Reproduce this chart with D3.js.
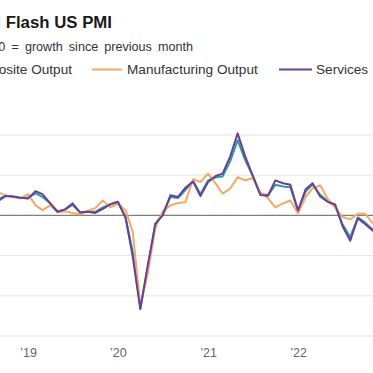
<!DOCTYPE html>
<html><head><meta charset="utf-8">
<script src="https://cdn.jsdelivr.net/npm/d3@7"></script>
<style>
html,body{margin:0;padding:0;background:#fff;overflow:hidden;}
svg{display:block;font-family:"Liberation Sans",Arial,sans-serif;}
</style></head>
<body><svg id="c" width="373" height="373"></svg>
<script>
const months = [
 "2018-08","2018-09","2018-10","2018-11","2018-12",
 "2019-01","2019-02","2019-03","2019-04","2019-05","2019-06","2019-07","2019-08","2019-09","2019-10","2019-11","2019-12",
 "2020-01","2020-02","2020-03","2020-04","2020-05","2020-06","2020-07","2020-08","2020-09","2020-10","2020-11","2020-12",
 "2021-01","2021-02","2021-03","2021-04","2021-05","2021-06","2021-07","2021-08","2021-09","2021-10","2021-11","2021-12",
 "2022-01","2022-02","2022-03","2022-04","2022-05","2022-06","2022-07","2022-08","2022-09","2022-10","2022-11","2022-12"];
const composite = [54.7,53.9,54.9,54.7,54.4,
 54.4,55.5,54.6,53.0,50.9,51.5,52.6,50.7,51.0,50.9,52.0,52.7,
 53.3,49.6,40.9,27.0,37.0,47.9,50.3,54.6,54.3,56.3,58.6,55.3,
 58.7,59.5,59.7,63.5,68.7,63.7,59.9,55.4,55.0,57.6,57.2,57.0,
 51.1,55.9,57.7,55.1,53.6,52.3,47.7,44.6,49.5,48.2,46.4,45.0];
const manufacturing = [55.5,55.8,55.0,54.6,54.2,
 55.3,52.5,51.3,52.5,50.8,51.0,50.6,50.2,51.2,51.8,53.7,52.0,
 52.9,51.3,46.0,27.5,35.5,47.0,51.0,52.5,53.1,53.3,59.0,58.3,
 60.4,57.9,55.4,56.7,59.5,58.7,59.3,55.8,54.3,52.0,53.0,53.7,
 50.5,54.6,56.7,57.5,54.2,51.8,49.6,49.0,50.4,50.4,48.0,46.5];
const services = [54.8,53.5,54.8,54.7,54.4,
 54.2,56.0,55.3,53.0,50.9,51.5,53.0,50.7,50.9,50.6,51.6,52.8,
 53.4,49.4,39.8,26.7,37.5,47.9,50.0,55.0,54.6,56.9,58.4,54.8,
 58.3,59.8,60.4,64.7,70.4,64.6,59.9,55.1,54.9,58.7,58.0,57.6,
 51.2,56.5,58.0,54.7,53.4,52.7,47.3,43.7,49.3,47.8,46.2,44.7];
const yTicks = [20,30,40,50,60,70];
const xTicks = ["2019-01","2020-01","2021-01","2022-01"];
const xTickLabels = ["\u201919","\u201920","\u201921","\u201922"];
const seriesNames = ["Composite Output","Manufacturing Output","Services"];
const colors = ["#2a9ba4","#f5a862","#6a3f96"];

const svg = d3.select("#c");
const parse = d3.timeParse("%Y-%m");
const x = d3.scaleTime().domain([parse("2019-01"), parse("2022-01")]).range([28, 298]);
const y = d3.scaleLinear().domain([20, 70]).range([336, 135]);

// gridlines
svg.append("g").selectAll("line").data(yTicks).join("line")
  .attr("x1", -50).attr("x2", 420)
  .attr("y1", d => y(d)).attr("y2", d => y(d))
  .attr("stroke", d => d === 50 ? "#7f7f7f" : "#e4e4e4")
  .attr("stroke-width", d => d === 50 ? 1.2 : 1);

// x axis labels
const xAxis = d3.axisBottom(x).tickValues(xTicks.map(parse))
  .tickFormat((d, i) => xTickLabels[i]).tickSize(0).tickPadding(0);
const gx = svg.append("g").attr("transform", "translate(0,348)").call(xAxis);
gx.select(".domain").remove();
gx.selectAll("text").attr("font-size", 12.5).attr("fill", "#666")
  .attr("font-family", "Liberation Sans, Arial, sans-serif");

// lines
const allSeries = [composite, manufacturing, services];
const line = d3.line().x((d, i) => x(parse(months[i]))).y(d => y(d));
allSeries.forEach((s, k) => {
  svg.append("path").datum(s).attr("d", line)
    .attr("fill", "none").attr("stroke", colors[k])
    .attr("stroke-width", 2).attr("stroke-linejoin", "round");
});

// title & subtitle
svg.append("text").attr("x", 112).attr("y", 27.5).attr("text-anchor", "end")
  .attr("font-size", 16.8).attr("font-weight", "bold").attr("fill", "#1a1a1a")
  .text("S&P Global Flash US PMI");
svg.append("text").attr("x", 193).attr("y", 50.5).attr("text-anchor", "end")
  .attr("font-size", 12.6).attr("fill", "#333").attr("word-spacing", 2.6)
  .text("Index, sa, >50 = growth since previous month");

// legend
const legY = 69.5;
const leg = svg.append("g").attr("font-size", 13.6).attr("fill", "#333");
const t0 = leg.append("text").attr("x", 72).attr("y", legY + 4.8).attr("text-anchor", "end").text(seriesNames[0]);
const w0 = t0.node().getComputedTextLength();
leg.append("line").attr("x1", 72 - w0 - 36).attr("x2", 72 - w0 - 6).attr("y1", legY).attr("y2", legY)
  .attr("stroke", colors[0]).attr("stroke-width", 2);
leg.append("line").attr("x1", 92).attr("x2", 122).attr("y1", legY).attr("y2", legY)
  .attr("stroke", colors[1]).attr("stroke-width", 2);
leg.append("text").attr("x", 127).attr("y", legY + 4.8).text(seriesNames[1]);
leg.append("line").attr("x1", 279).attr("x2", 312).attr("y1", legY).attr("y2", legY)
  .attr("stroke", colors[2]).attr("stroke-width", 2);
leg.append("text").attr("x", 316).attr("y", legY + 4.8).text(seriesNames[2]);
</script></body></html>
